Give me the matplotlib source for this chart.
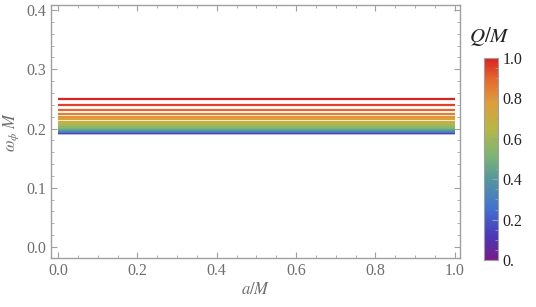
import numpy as np
import matplotlib
matplotlib.use("Agg")
import matplotlib.pyplot as plt
from matplotlib.colors import LinearSegmentedColormap
from matplotlib.ticker import MultipleLocator, FixedLocator

plt.rcParams["mathtext.fontset"] = "stix"
plt.rcParams["font.family"] = ["Liberation Serif", "DejaVu Serif"]

# Q/M values of the curves and the (constant) omega_phi M
q_vals = [0.0, 0.05, 0.1, 0.15, 0.2, 0.25, 0.3, 0.35, 0.4, 0.45, 0.5,
          0.55, 0.6, 0.65, 0.7, 0.75, 0.8, 0.85, 0.9, 0.95, 1.0]
omega_vals = [0.1925, 0.1925, 0.1928, 0.1932, 0.1938, 0.1945, 0.1954,
              0.1966, 0.1979, 0.1995, 0.2013, 0.2034, 0.2058, 0.2086,
              0.2118, 0.2156, 0.2200, 0.2252, 0.2315, 0.2395, 0.2500]
a_vals = [0.0, 1.0]

x_ticks = [0.0, 0.2, 0.4, 0.6, 0.8, 1.0]
y_ticks = [0.0, 0.1, 0.2, 0.3, 0.4]
cb_ticks = [0.0, 0.2, 0.4, 0.6, 0.8, 1.0]
cb_labels = ["0.", "0.2", "0.4", "0.6", "0.8", "1.0"]

# approximation of Mathematica's "Rainbow" gradient
rainbow = LinearSegmentedColormap.from_list("mma_rainbow", [
    (0.00, (0.47, 0.11, 0.53)),
    (0.12, (0.30, 0.22, 0.72)),
    (0.25, (0.26, 0.44, 0.82)),
    (0.40, (0.33, 0.60, 0.62)),
    (0.52, (0.50, 0.71, 0.45)),
    (0.65, (0.72, 0.72, 0.28)),
    (0.78, (0.88, 0.62, 0.22)),
    (0.90, (0.90, 0.40, 0.18)),
    (1.00, (0.86, 0.13, 0.13)),
])

FRAME = "#a0a0a0"
TXT = "#6e6e6e"

fig = plt.figure(figsize=(5.36, 3.07), dpi=100)
ax = fig.add_axes([0.0951, 0.1596, 0.763, 0.824])

for q, w in zip(q_vals, omega_vals):
    ax.plot(a_vals, [w, w], color=rainbow(q), lw=1.6, solid_capstyle="butt")

ax.set_xlim(-0.018, 1.013)
ax.set_ylim(-0.0186, 0.4085)
ax.xaxis.set_major_locator(FixedLocator(x_ticks))
ax.yaxis.set_major_locator(FixedLocator(y_ticks))
ax.xaxis.set_minor_locator(MultipleLocator(0.05))
ax.yaxis.set_minor_locator(MultipleLocator(0.02))
ax.set_xticklabels(["%.1f" % t for t in x_ticks])
ax.set_yticklabels(["%.1f" % t for t in y_ticks])

for s in ax.spines.values():
    s.set_color(FRAME)
    s.set_linewidth(1.0)
ax.tick_params(which="both", direction="in", top=True, right=True,
               color=FRAME, labelcolor=TXT, labelsize=11.5)
ax.tick_params(which="major", length=4)
ax.tick_params(which="minor", length=2)

ax.set_xlabel(r"$a/M$", color=TXT, fontsize=12, labelpad=2)
ax.set_ylabel(r"$\omega_\phi\ M$", color=TXT, fontsize=12, labelpad=4)

# colour bar
cax = fig.add_axes([484 / 536, 47 / 307, 14 / 536, 202 / 307])
grad = np.linspace(0, 1, 256).reshape(-1, 1)
cax.imshow(grad, aspect="auto", cmap=rainbow, origin="lower",
           extent=[0, 1, 0, 1])
cax.set_xticks([])
cax.yaxis.tick_right()
cax.set_yticks(cb_ticks)
cax.set_yticklabels(cb_labels)
cax.yaxis.set_minor_locator(MultipleLocator(0.05))
cax.tick_params(which="both", direction="in", color=FRAME, labelsize=11.5,
                labelcolor="#222222", right=True, left=False)
cax.tick_params(which="major", length=4)
cax.tick_params(which="minor", length=2)
for s in cax.spines.values():
    s.set_color(FRAME)
    s.set_linewidth(0.8)
fig.text(490 / 536, 1 - 36 / 307, r"$Q/M$", fontsize=15, ha="center",
         va="center", color="#222222")

fig.savefig("out.png", dpi=100)
